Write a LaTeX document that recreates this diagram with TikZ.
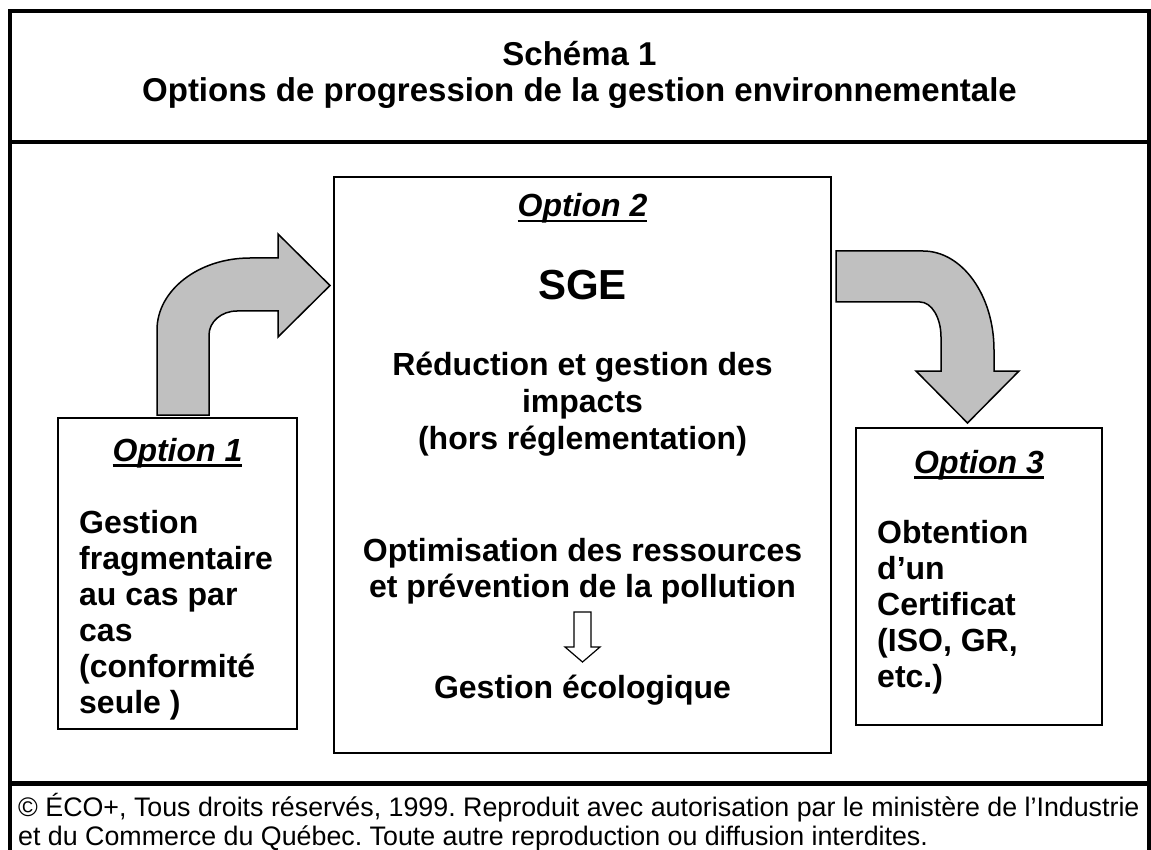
\documentclass[tikz,border=0pt]{standalone}
\usepackage{fontspec}
\setmainfont{Liberation Sans}
\frenchspacing
\definecolor{arrowgray}{RGB}{192,192,192}
\newcommand{\myul}[1]{\setbox0\hbox{#1}\rlap{\rule[-5.5pt]{\wd0}{2.6pt}}\box0}
\tikzset{
  frameline/.style={line width=3.5pt},
  boxnode/.style={draw, line width=1.5pt, inner sep=0pt},
  bigarrow/.style={draw, line width=1.5pt, fill=arrowgray, line join=miter},
  smallarrow/.style={draw, line width=1.2pt, fill=white, line join=miter},
  txt/.style={inner sep=0pt, anchor=base, font=\fontsize{32}{36}\selectfont\bfseries},
  txtl/.style={inner sep=0pt, anchor=base west, font=\fontsize{32}{36}\selectfont\bfseries},
  opttitle/.style={inner sep=0pt, anchor=base, font=\fontsize{32}{36}\selectfont\bfseries\itshape},
  copy/.style={inner sep=0pt, anchor=base west, font=\fontsize{26.8}{30}\selectfont},
}
\begin{document}
\begin{tikzpicture}[x=1pt,y=-1pt]
\useasboundingbox (0,0) rectangle (1151,850);
\fill[white] (0,0) rectangle (1151,850);
% frame
\draw[frameline] (10,850) -- (10,11) -- (1149,11) -- (1149,850);
\draw[frameline] (10,142) -- (1149,142);
\draw[line width=5pt] (8,783.5) -- (1151,783.5);
% title
\node[txt, font=\fontsize{33}{36}\selectfont\bfseries] (t1) at (579.5,66) {Schéma 1};
\node[txt, font=\fontsize{33}{36}\selectfont\bfseries] (t2) at (579.5,102) {Options de progression de la gestion environnementale};
% boxes
\node[boxnode, minimum width=239pt, minimum height=311pt] (o1) at (177.5,573.5) {};
\node[boxnode, minimum width=497pt, minimum height=576pt] (o2) at (582.5,465) {};
\node[boxnode, minimum width=246pt, minimum height=297pt] (o3) at (979,576.5) {};
% big arrows
\draw[bigarrow] (157,415) -- (157,330) .. controls (157,290.2) and (198.6,258) .. (250,258)
  -- (278,258) -- (278,234) -- (330,285.5) -- (278,337) -- (278,311) -- (237,311)
  .. controls (221.5,311) and (209,321.7) .. (209,335) -- (209,415) -- cycle;
\draw[bigarrow] (836,251) -- (923,251) .. controls (962.2,251) and (994,295.3) .. (994,350)
  -- (994,371) -- (1019,371) -- (967.5,423) -- (916,371) -- (941,371) -- (941,337)
  .. controls (941,317.7) and (931.6,302) .. (920,302) -- (836,302) -- cycle;
% option 1
\node[opttitle] (o1t) at (177.5,461) {\myul{Option 1}};
\node[txtl] (o1a) at (79,533) {Gestion};
\node[txtl] (o1b) at (79,569) {fragmentaire};
\node[txtl] (o1c) at (79,605) {au cas par};
\node[txtl] (o1d) at (79,641) {cas};
\node[txtl] (o1e) at (79,677) {(conformité};
\node[txtl] (o1f) at (79,713) {seule )};
% option 2
\node[opttitle] (o2t) at (582.5,217) {\myul{Option 2}};
\node[txt, font=\fontsize{42}{48}\selectfont\bfseries] (sge) at (582.5,299) {SGE};
\node[txt] (o2a) at (582.5,375) {Réduction et gestion des};
\node[txt] (o2b) at (582.5,412) {impacts};
\node[txt] (o2c) at (582.5,449) {(hors réglementation)};
\node[txt] (o2d) at (582.5,561) {Optimisation des ressources};
\node[txt] (o2e) at (582.5,597) {et prévention de la pollution};
\node[txt] (o2f) at (582.5,698) {Gestion écologique};
\draw[smallarrow] (574,612) -- (591,612) -- (591,647) -- (600,647) -- (582.5,662)
  -- (565,647) -- (574,647) -- cycle;
% option 3
\node[opttitle] (o3t) at (979,473) {\myul{Option 3}};
\node[txtl] (o3a) at (877,543) {Obtention};
\node[txtl] (o3b) at (877,579) {d’un};
\node[txtl] (o3c) at (877,615) {Certificat};
\node[txtl] (o3d) at (877,651) {(ISO, GR,};
\node[txtl] (o3e) at (877,687) {etc.)};
% copyright
\node[copy] (c1) at (18,816) {© ÉCO+, Tous droits réservés, 1999. Reproduit avec autorisation par le ministère de l’Industrie};
\node[copy] (c2) at (18,845) {et du Commerce du Québec. Toute autre reproduction ou diffusion interdites.};
\end{tikzpicture}
\end{document}
